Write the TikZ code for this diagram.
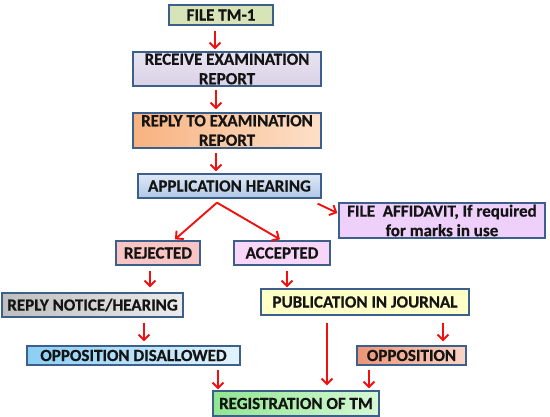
\documentclass[tikz,border=0pt]{standalone}
\usepackage{fontspec}
\setmainfont{Carlito}[BoldFeatures={FakeBold=0.6}]
\usetikzlibrary{arrows.meta}
\definecolor{bord}{HTML}{3C5F8C}
\definecolor{arrred}{HTML}{F01010}
\tikzset{
  box/.style={draw=bord, line width=1.3pt, inner sep=0pt, align=center,
    font=\fontsize{17}{19.5}\selectfont\bfseries, text=black!92},
  arr/.style={draw=arrred, line width=1.9pt, -{Straight Barb[length=5.5pt,width=11pt]}},
}
\begin{document}
\begin{tikzpicture}[x=1pt,y=-1pt]
\useasboundingbox (0,0) rectangle (550,417);
\node[box, fill={rgb,255:red,214;green,228;blue,184}, minimum width=104pt, minimum height=20pt] (tm1) at (221,15) {FILE TM-1};
\node[box, top color={rgb,255:red,232;green,228;blue,240}, bottom color={rgb,255:red,218;green,210;blue,232}, minimum width=188pt, minimum height=34pt] (recv) at (227,69) {RECEIVE EXAMINATION\\REPORT};
\node[box, left color={rgb,255:red,248;green,178;blue,128}, right color={rgb,255:red,253;green,224;blue,200}, minimum width=188pt, minimum height=35pt] (reply) at (227,130.5) {REPLY TO EXAMINATION\\REPORT};
\node[box, top color={rgb,255:red,222;green,232;blue,246}, bottom color={rgb,255:red,176;green,200;blue,230}, minimum width=183pt, minimum height=24pt] (hear) at (229.5,186) {APPLICATION HEARING};
\node[box, left color={rgb,255:red,238;green,208;blue,250}, middle color={rgb,255:red,200;green,144;blue,236}, right color={rgb,255:red,238;green,208;blue,250}, minimum width=206pt, minimum height=35pt] (aff) at (442,220.5) {FILE\ \ AFFIDAVIT, If required\\for marks in use};
\node[box, left color={rgb,255:red,248;green,196;blue,196}, middle color={rgb,255:red,238;green,140;blue,140}, right color={rgb,255:red,248;green,196;blue,196}, minimum width=84pt, minimum height=24pt] (rej) at (158,253) {REJECTED};
\node[box, left color={rgb,255:red,248;green,214;blue,248}, middle color={rgb,255:red,236;green,176;blue,238}, right color={rgb,255:red,248;green,214;blue,248}, minimum width=96pt, minimum height=24pt] (acc) at (282,253) {ACCEPTED};
\node[box, left color={rgb,255:red,190;green,190;blue,190}, right color={rgb,255:red,236;green,236;blue,236}, minimum width=181pt, minimum height=24pt] (rnh) at (92.5,305) {REPLY NOTICE/HEARING};
\node[box, left color={rgb,255:red,255;green,255;blue,200}, middle color={rgb,255:red,250;green,250;blue,100}, right color={rgb,255:red,255;green,255;blue,200}, minimum width=208pt, minimum height=26pt] (pub) at (365,302) {PUBLICATION IN JOURNAL};
\node[box, left color={rgb,255:red,140;green,206;blue,244}, right color={rgb,255:red,226;green,244;blue,253}, minimum width=213pt, minimum height=19pt] (odis) at (133.5,355.5) {OPPOSITION DISALLOWED};
\node[box, left color={rgb,255:red,236;green,148;blue,118}, right color={rgb,255:red,250;green,212;blue,198}, minimum width=109pt, minimum height=19pt] (opp) at (411.5,355.5) {OPPOSITION};
\node[box, left color={rgb,255:red,144;green,230;blue,144}, right color={rgb,255:red,214;green,248;blue,214}, minimum width=166pt, minimum height=25pt] (reg) at (296,403.5) {REGISTRATION OF TM};
\draw[arr] ([shift={(-6,5)}]tm1.south) -- ([shift={(-12,-2)}]recv.north);
\draw[arr] ([shift={(-11,3)}]recv.south) -- ([shift={(-11,-3)}]reply.north);
\draw[arr] ([shift={(-11,4)}]reply.south) -- ([shift={(-13.5,-2)}]hear.north);
\draw[arr] ([shift={(-12.5,4)}]hear.south) -- ([shift={(17,-1)}]rej.north);
\draw[arr] ([shift={(-12.5,4)}]hear.south) -- ([shift={(-2,-1)}]acc.north);
\draw[arr] ([shift={(-4,5)}]hear.south east) -- ([shift={(-1,-7.5)}]aff.west);
\draw[arr] ([shift={(-8,5)}]rej.south) -- ([shift={(57.5,-5)}]rnh.north);
\draw[arr] ([shift={(5,5)}]acc.south) -- ([shift={(-78,-1)}]pub.north);
\draw[arr] ([shift={(51.5,5)}]rnh.south) -- ([shift={(10.5,-4)}]odis.north);
\draw[arr] ([shift={(78,7)}]pub.south) -- ([shift={(31.5,-4)}]opp.north);
\draw[arr] ([shift={(-38,7)}]pub.south) -- ([shift={(31,-5)}]reg.north);
\draw[arr] ([shift={(84.5,4)}]odis.south) -- ([shift={(-78,-1)}]reg.north);
\draw[arr] ([shift={(-42.5,4)}]opp.south) -- ([shift={(73,-2)}]reg.north);
\end{tikzpicture}
\end{document}
